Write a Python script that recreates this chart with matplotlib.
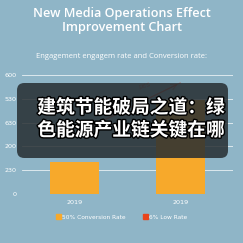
import matplotlib.pyplot as plt
from matplotlib.patches import FancyBboxPatch
import matplotlib.patheffects as pe

years = ['2019', '2019']
conversion = [160, 472]
low_rate = [300, 560]
y_ticks = [0, 120, 240, 360, 480, 600]
y_labels = ['0', '230', '200', '630', '530', '600']

bg = '#8fb5c7'
orange = '#f7a92b'
red = '#c8402a'

fig = plt.figure(figsize=(2.43, 2.43), dpi=100, facecolor=bg)
ax = fig.add_axes([22 / 243, 1 - 194 / 243, 211 / 243, 119 / 243], facecolor=bg)

x = range(len(years))
ax.bar(x, conversion, width=0.46, color=orange, zorder=2)
ax.plot(x, low_rate, color=red, lw=0.8, alpha=0.5, zorder=3)
ax.annotate('', xy=(1.0, low_rate[1]), xytext=(0.0, low_rate[0]),
            arrowprops=dict(arrowstyle='->', color=red, lw=0.8, alpha=0.5))
ax.text(0.6, 530, 'pes', color=red, fontsize=5, rotation=15, alpha=0.6)

ax.set_xlim(-0.5, 1.5)
ax.set_ylim(0, 600)
ax.set_xticks(list(x), years)
ax.set_yticks(y_ticks, y_labels)
ax.grid(axis='y', color='white', lw=0.6, alpha=0.8, zorder=0)
ax.tick_params(length=0, colors='white', labelsize=4.6, pad=4)
for s in ax.spines.values():
    s.set_visible(False)

fig.text(0.5, 1 - 21 / 243, 'New Media Operations Effect\nImprovement Chart',
         ha='center', va='center', color='white', fontsize=9.1,
         fontweight='semibold', family='Open Sans', linespacing=1.1)
fig.text(0.5, 1 - 56 / 243, 'Engagement engagem rate and Conversion rate:',
         ha='center', va='center', color='white', fontsize=5.5, family='Open Sans')

# legend
h1 = plt.Rectangle((0, 0), 1, 1, color=orange)
h2 = plt.Rectangle((0, 0), 1, 1, color='#e8441c')
fig.legend([h1, h2], ['50% Conversion Rate', '6% Low Rate'], loc='center',
           bbox_to_anchor=(0.5, 1 - 217 / 243), ncol=2, frameon=False,
           fontsize=4.2, labelcolor='white', handlelength=0.8, handleheight=0.8,
           handletextpad=0.2, columnspacing=3.0)

# overlay caption
box = FancyBboxPatch((17 / 243, 1 - 158 / 243), 211 / 243, 75 / 243,
                     boxstyle='round,pad=0,rounding_size=0.03',
                     transform=fig.transFigure, facecolor='#262d31',
                     alpha=0.85, edgecolor='none', zorder=5)
fig.patches.append(box)
fig.text(131 / 243, 1 - 119 / 243, '建筑节能破局之道：绿\n色能源产业链关键在哪',
         ha='center', va='center', color='white', fontsize=13.5,
         fontweight='bold', family=['Noto Sans CJK SC', 'DejaVu Sans'],
         linespacing=1.25, zorder=6,
         path_effects=[pe.withStroke(linewidth=2, foreground='black')])

fig.savefig('out.png', dpi=100, facecolor=bg)
